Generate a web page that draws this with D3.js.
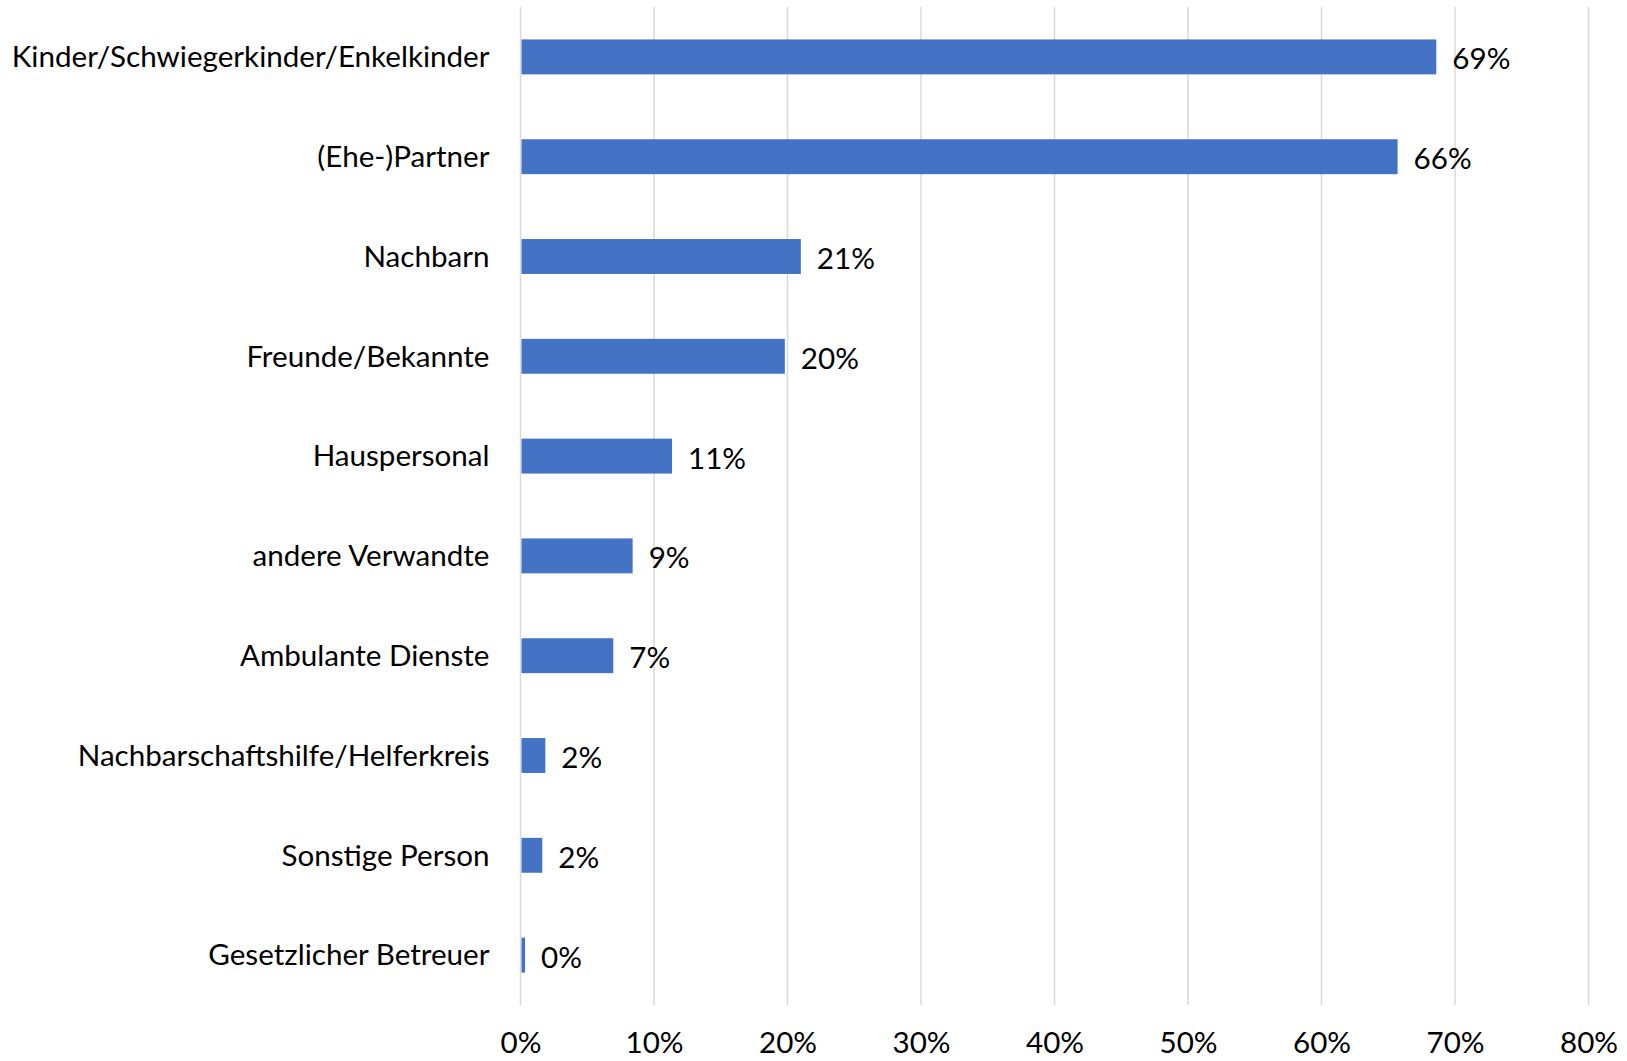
<!DOCTYPE html>
<html>
<head>
<meta charset="utf-8">
<script src="https://cdn.jsdelivr.net/npm/d3@7"></script>
<style>
  html, body { margin: 0; padding: 0; background: #ffffff; }
  svg { display: block; font-family: Lato, "Open Sans", sans-serif; }
</style>
</head>
<body>
<svg id="chart" width="1627" height="1061"></svg>
<script>
const categories = [
  "Kinder/Schwiegerkinder/Enkelkinder",
  "(Ehe-)Partner",
  "Nachbarn",
  "Freunde/Bekannte",
  "Hauspersonal",
  "andere Verwandte",
  "Ambulante Dienste",
  "Nachbarschaftshilfe/Helferkreis",
  "Sonstige Person",
  "Gesetzlicher Betreuer"
];
const values = [0.686, 0.657, 0.210, 0.198, 0.1135, 0.084, 0.0695, 0.0186, 0.0163, 0.0034];
const valueLabels = ["69%", "66%", "21%", "20%", "11%", "9%", "7%", "2%", "2%", "0%"];
const tickValues = [0, 0.1, 0.2, 0.3, 0.4, 0.5, 0.6, 0.7, 0.8];
const tickLabels = ["0%", "10%", "20%", "30%", "40%", "50%", "60%", "70%", "80%"];

const margin = { left: 520.5, right: 38.5, top: 7, bottom: 56 };
const W = 1627, H = 1061;
const svg = d3.select("#chart");

const x = d3.scaleLinear().domain([0, 0.8]).range([margin.left, W - margin.right]);
const y = d3.scaleBand().domain(categories).range([margin.top, H - margin.bottom])
  .paddingInner(0.65).paddingOuter(0.325);

const fontSize = 29.6;

// gridlines
svg.append("g").selectAll("line").data(tickValues).join("line")
  .attr("x1", d => x(d)).attr("x2", d => x(d))
  .attr("y1", margin.top).attr("y2", H - margin.bottom)
  .attr("stroke", "#d9d9d9").attr("stroke-width", 1.5);

// bars
svg.append("g").selectAll("rect").data(values).join("rect")
  .attr("x", x(0) + 1)
  .attr("y", (d, i) => y(categories[i]))
  .attr("width", d => Math.max(0, x(d) - x(0) - 1))
  .attr("height", y.bandwidth())
  .attr("fill", "#4472c4");

// value labels
svg.append("g").selectAll("text").data(values).join("text")
  .attr("x", d => x(d) + 16)
  .attr("y", (d, i) => y(categories[i]) + y.bandwidth() / 2 + 1)
  .attr("dominant-baseline", "central")
  .attr("font-size", fontSize)
  .attr("fill", "#000")
  .text((d, i) => valueLabels[i]);

// category axis labels
const yAxis = d3.axisLeft(y).tickSize(0).tickPadding(31);
const gy = svg.append("g").attr("transform", `translate(${x(0)},0)`).call(yAxis);
gy.select(".domain").remove();
gy.selectAll("text").attr("font-size", fontSize).attr("fill", "#000")
  .attr("font-family", "Lato, 'Open Sans', sans-serif").attr("dy", "0.35em");

// x axis tick labels
const xAxis = d3.axisBottom(x).tickValues(tickValues).tickSize(0).tickPadding(0)
  .tickFormat((d, i) => tickLabels[i]);
const gx = svg.append("g").attr("transform", `translate(0,${H - margin.bottom})`).call(xAxis);
gx.select(".domain").remove();
gx.selectAll("text").attr("font-size", fontSize).attr("fill", "#000")
  .attr("font-family", "Lato, 'Open Sans', sans-serif")
  .attr("y", 0).attr("dy", 0).attr("transform", "translate(0,48)");
</script>
</body>
</html>
